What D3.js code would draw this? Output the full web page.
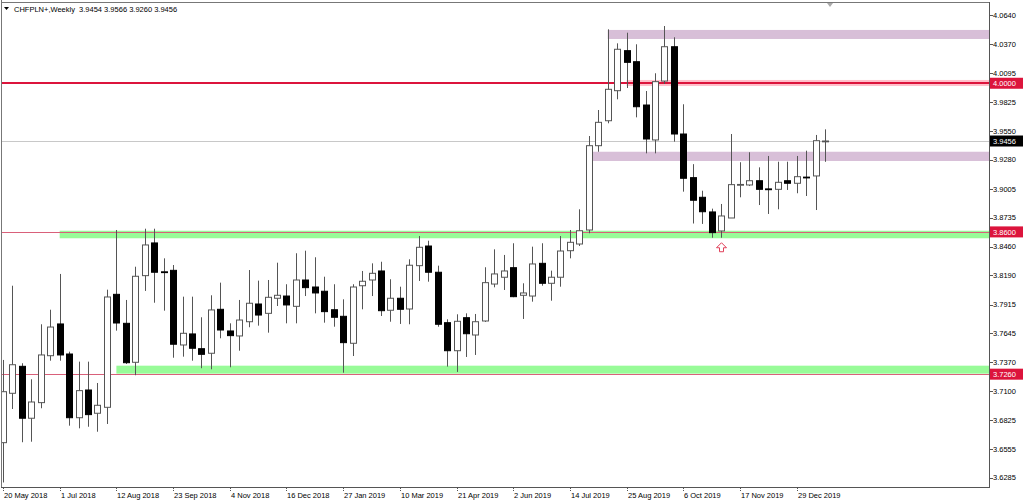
<!DOCTYPE html>
<html><head><meta charset="utf-8">
<script src="https://cdn.jsdelivr.net/npm/d3@7"></script>
<style>
html,body{margin:0;padding:0;background:#fff;}
svg{display:block;}
text{font-family:"Liberation Sans",Arial,sans-serif;}
</style></head>
<body>
<svg id="chart" width="1024" height="504"></svg>
<script>
// ---- data ----
const symbolTitle = "CHFPLN+,Weekly  3.9454 3.9566 3.9260 3.9456";
const dateLabels = ["20 May 2018","1 Jul 2018","12 Aug 2018","23 Sep 2018","4 Nov 2018","16 Dec 2018","27 Jan 2019","10 Mar 2019","21 Apr 2019","2 Jun 2019","14 Jul 2019","25 Aug 2019","6 Oct 2019","17 Nov 2019","29 Dec 2019"];
const dateLabelEvery = 6;
const priceTicks = [4.0640,4.0370,4.0095,3.9825,3.9550,3.9280,3.9005,3.8735,3.8460,3.8190,3.7915,3.7645,3.7370,3.7100,3.6825,3.6555,3.6285];
const opens  = [3.6615,3.7080,3.7334,3.6845,3.6992,3.7434,3.7733,3.7450,3.6850,3.7111,3.6892,3.6948,3.8012,3.7739,3.7372,3.8188,3.8496,3.8224,3.8238,3.7535,3.7639,3.7500,3.7457,3.7871,3.7667,3.7620,3.7754,3.7921,3.7833,3.7975,3.7996,3.7899,3.8147,3.8081,3.8041,3.7867,3.7805,3.7551,3.8093,3.8147,3.8232,3.7862,3.7975,3.7874,3.8282,3.8467,3.8220,3.7745,3.7481,3.7792,3.7629,3.7761,3.8109,3.8173,3.8263,3.8003,3.7996,3.8304,3.8116,3.8173,3.8423,3.8486,3.8618,3.9412,3.9647,3.9930,4.0307,4.0203,3.9795,3.9466,4.0021,4.0344,3.9522,3.9111,3.8926,3.8788,3.8609,3.8731,3.9043,3.9042,3.9082,3.9005,3.9001,3.9082,3.9058,3.9116,3.9127,3.9454];
const highs  = [3.7394,3.8093,3.7363,3.7212,3.7730,3.7867,3.8204,3.7472,3.7378,3.7378,3.7177,3.8056,3.8618,3.7959,3.8272,3.8630,3.8630,3.8351,3.8288,3.7990,3.7990,3.7796,3.8003,3.8122,3.7739,3.7959,3.8241,3.8141,3.8147,3.8310,3.8107,3.8399,3.8423,3.8361,3.8178,3.8107,3.7965,3.8107,3.8232,3.8304,3.8319,3.8154,3.8084,3.8342,3.8561,3.8517,3.8282,3.7777,3.7824,3.7833,3.7827,3.8267,3.8436,3.8383,3.8493,3.8116,3.8461,3.8493,3.8235,3.8561,3.8618,3.8813,3.9503,3.9748,4.0508,4.0376,4.0476,4.0367,3.9927,4.0094,4.0539,4.0433,3.9802,3.9238,3.8988,3.8819,3.8863,3.9522,3.9256,3.9350,3.9208,3.9315,3.9261,3.9261,3.9315,3.9365,3.9513,3.9566];
const lows   = [3.6240,3.6932,3.6619,3.6624,3.6939,3.7387,3.7387,3.6775,3.6750,3.6765,3.6718,3.6791,3.7670,3.7356,3.7250,3.8044,3.7933,3.7858,3.7415,3.7425,3.7387,3.7316,3.7306,3.7598,3.7325,3.7481,3.7702,3.7717,3.7651,3.7902,3.7739,3.7739,3.7996,3.7833,3.7745,3.7707,3.7274,3.7431,3.7871,3.7996,3.7808,3.7754,3.7733,3.7730,3.8138,3.8131,3.7707,3.7331,3.7281,3.7422,3.7441,3.7752,3.8078,3.8053,3.7985,3.7780,3.7943,3.8093,3.7952,3.8084,3.8351,3.8467,3.8587,3.9355,3.9623,3.9849,3.9955,3.9679,3.9340,3.9340,3.9993,3.9450,3.8979,3.8679,3.8675,3.8545,3.8545,3.8731,3.8926,3.9032,3.8853,3.8769,3.8813,3.8995,3.8964,3.8938,3.8806,3.9260];
const closes = [3.7095,3.7349,3.6845,3.6998,3.7441,3.7704,3.7441,3.6850,3.7105,3.6879,3.6967,3.7987,3.7742,3.7368,3.8182,3.8477,3.8220,3.8220,3.7542,3.7645,3.7504,3.7447,3.7865,3.7676,3.7623,3.7770,3.7928,3.7817,3.7984,3.8003,3.7912,3.8147,3.8075,3.8025,3.7849,3.7796,3.7557,3.8081,3.8135,3.8210,3.7858,3.7975,3.7871,3.8286,3.8455,3.8220,3.7730,3.7481,3.7758,3.7641,3.7754,3.8122,3.8204,3.8232,3.7990,3.8025,3.8298,3.8116,3.8173,3.8420,3.8502,3.8611,3.9412,3.9632,3.9943,4.0320,4.0197,3.9779,3.9475,4.0015,4.0344,3.9522,3.9105,3.8898,3.8790,3.8593,3.8750,3.9045,3.9047,3.9082,3.9001,3.9003,3.9067,3.9058,3.9120,3.9112,3.9459,3.9456];
// horizontal levels (price), red-labelled
const levelPrices = [4.0000, 3.8600, 3.7260];
const levelWidths = [2, 1, 1];
const currentPrice = 3.9456;
// rectangles: [startIndex, priceTop, priceBottom, kind]
const zoneStarts  = [64, 66, 62, 6, 12];
const zoneTops    = [4.0502, 4.0031, 3.9355, 3.8611, 3.7340];
const zoneBottoms = [4.0417, 3.9974, 3.9268, 3.8540, 3.7265];
const zoneKinds   = ["purple","pink","purple","green","green"];
const arrowIndex = 76;

// ---- layout ----
const W = 1024, H = 504;
const plotL = 1, plotR = 989, plotT = 3, plotB = 487;
const svg = d3.select("#chart");

const x = d3.scaleLinear().domain([0, 84]).range([3, 796.7]);
const y = d3.scaleLinear().domain([3.6285, 4.0640]).range([477.7, 15.3]);

const candles = opens.map((o,i)=>({i, o, h:highs[i], l:lows[i], c:closes[i]}));

svg.append("rect").attr("width",W).attr("height",H).attr("fill","#fff");

svg.append("defs").append("clipPath").attr("id","plotclip")
  .append("rect").attr("x",plotL).attr("y",plotT).attr("width",plotR-plotL).attr("height",plotB-plotT);

const plot = svg.append("g").attr("clip-path","url(#plotclip)");

const zoneColor = {purple:"#d8bfd8", pink:"#ffc0cb", green:"#98fb98"};
// zones
plot.selectAll("rect.zone").data(zoneStarts.map((s,k)=>({s, t:zoneTops[k], b:zoneBottoms[k], kind:zoneKinds[k]})))
  .enter().append("rect").attr("class","zone")
  .attr("x", d=>x(d.s)).attr("width", d=>plotR - x(d.s))
  .attr("y", d=>y(d.t)).attr("height", d=>y(d.b)-y(d.t))
  .attr("fill", d=>zoneColor[d.kind]);

// current price line
plot.append("line").attr("x1",plotL).attr("x2",plotR)
  .attr("y1",Math.round(y(currentPrice))+0.5).attr("y2",Math.round(y(currentPrice))+0.5)
  .attr("stroke","#c8c8c8").attr("stroke-width",1);

// level lines
levelPrices.forEach((p,k)=>{
  const yy = levelWidths[k]===2 ? Math.round(y(p)) : Math.round(y(p))+0.5;
  plot.append("line").attr("x1",plotL).attr("x2",plotR).attr("y1",yy).attr("y2",yy)
    .attr("stroke", levelWidths[k]===2 ? "#dc143c" : "#d9607a")
    .attr("stroke-width", levelWidths[k]);
});

// candles
const bw = 6;
const cg = plot.append("g");
cg.selectAll("line.wick").data(candles).enter().append("line").attr("class","wick")
  .attr("x1", d=>Math.round(x(d.i))+0.5).attr("x2", d=>Math.round(x(d.i))+0.5)
  .attr("y1", d=>y(d.h)).attr("y2", d=>y(d.l))
  .attr("stroke","#555").attr("stroke-width",1);
cg.selectAll("rect.body").data(candles).enter().append("rect").attr("class","body")
  .attr("x", d=>Math.round(x(d.i))-bw/2+0.5)
  .attr("width", bw)
  .attr("y", d=>y(Math.max(d.o,d.c)))
  .attr("height", d=>Math.max(0.8, Math.abs(y(d.o)-y(d.c))))
  .attr("fill", d=> d.c>=d.o ? "#fff" : "#000")
  .attr("stroke", d=> d.c>=d.o ? "#555" : "#000")
  .attr("stroke-width",1);

// up arrow annotation under candle
const ax = Math.round(x(arrowIndex))+0.5, ay = y(lows[arrowIndex]) + 5;
plot.append("path")
  .attr("d", `M${ax},${ay} L${ax-5},${ay+5} L${ax-2},${ay+5} L${ax-2},${ay+9} L${ax+2},${ay+9} L${ax+2},${ay+5} L${ax+5},${ay+5} Z`)
  .attr("fill","#fff").attr("stroke","#e0405a").attr("stroke-width",1);

// frame
svg.append("line").attr("x1",plotL+0.5).attr("x2",plotL+0.5).attr("y1",0).attr("y2",plotB).attr("stroke","#777");
svg.append("line").attr("x1",plotL).attr("x2",plotR).attr("y1",plotT-0.5).attr("y2",plotT-0.5).attr("stroke","#777");
svg.append("line").attr("x1",plotR+0.5).attr("x2",plotR+0.5).attr("y1",plotT-1).attr("y2",plotB+1).attr("stroke","#555");
svg.append("line").attr("x1",plotL).attr("x2",plotR+1).attr("y1",plotB+0.5).attr("y2",plotB+0.5).attr("stroke","#555");

// chart shift marker
svg.append("path").attr("d","M827,3 L833,3 L830,7 Z").attr("fill","#aaa");

// title
svg.append("path").attr("d","M4,7 L9,7 L6.5,10 Z").attr("fill","#000");
svg.append("text").attr("x",14).attr("y",11.5).attr("font-size","7.5px").attr("fill","#000")
  .attr("xml:space","preserve").style("white-space","pre").text(symbolTitle);

// right price axis
const ya = svg.append("g");
priceTicks.forEach(p=>{
  const yy = Math.round(y(p))+0.5;
  ya.append("line").attr("x1",plotR+1).attr("x2",plotR+4).attr("y1",yy).attr("y2",yy).attr("stroke","#555");
  ya.append("text").attr("x",993).attr("y",y(p)).attr("dy","0.36em").attr("font-size","7.5px").attr("fill","#000").text(p.toFixed(4));
});
// level labels
levelPrices.forEach(p=>{
  ya.append("rect").attr("x",plotR+1).attr("y",y(p)-5.5).attr("width",33).attr("height",11).attr("fill","#dc143c");
  ya.append("text").attr("x",993).attr("y",y(p)).attr("dy","0.36em").attr("font-size","7.5px").attr("fill","#fff").text(p.toFixed(4));
});
ya.append("rect").attr("x",plotR+1).attr("y",y(currentPrice)-5.5).attr("width",33).attr("height",11).attr("fill","#000");
ya.append("text").attr("x",993).attr("y",y(currentPrice)).attr("dy","0.36em").attr("font-size","7.5px").attr("fill","#fff").text(currentPrice.toFixed(4));

// bottom date axis
const xa = svg.append("g");
dateLabels.forEach((lab,k)=>{
  const xx = Math.round(x(k*dateLabelEvery))+0.5;
  xa.append("line").attr("x1",xx).attr("x2",xx).attr("y1",plotB+1).attr("y2",plotB+5).attr("stroke","#555").attr("stroke-dasharray","1,1");
  xa.append("text").attr("x",xx+0.5).attr("y",498).attr("font-size","7.5px").attr("fill","#000").text(lab);
});
</script>
</body></html>
